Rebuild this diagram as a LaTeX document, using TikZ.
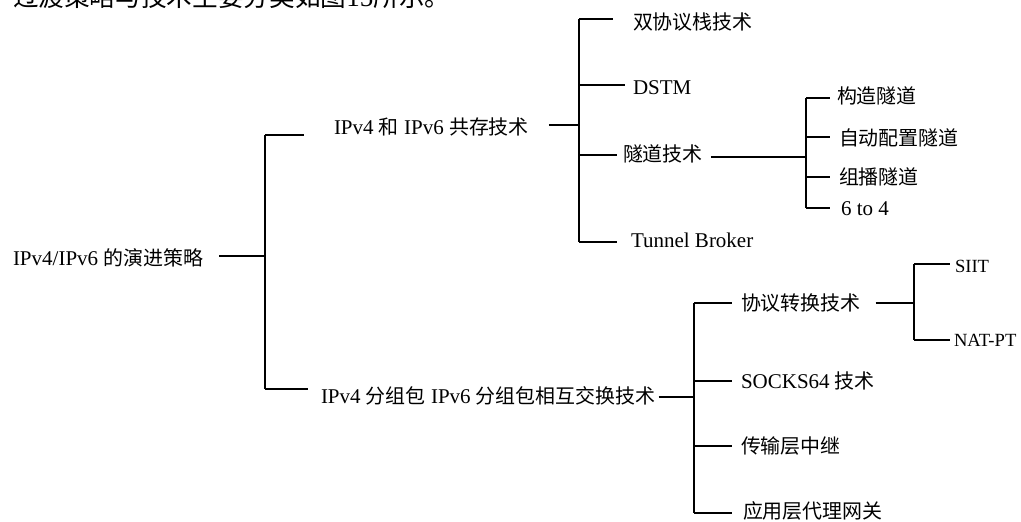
\documentclass[tikz,border=0pt]{standalone}
\usepackage{fontspec}
\setmainfont{Liberation Serif}
\newfontfamily\cjk[Scale=0.95]{Noto Sans CJK SC}
\begin{document}
\begin{tikzpicture}[x=0.5pt,y=-0.5pt,line width=1pt,
  lab/.style={anchor=west,inner sep=0pt,font=\fontsize{10.5}{12}\selectfont},
  narrow/.style={lab,font=\fontsize{9.3}{11}\selectfont}]
\useasboundingbox (0,0) rectangle (1021,522);
\clip (0,0) rectangle (1021,522);
% cut-off caption line at the top
\node[anchor=base west,inner sep=0pt,font=\fontsize{13.5}{15}\selectfont] (cap) at (12,7) {{\cjk 过渡策略与技术主要分类如图}15{\cjk 所示。}};
% root
\node[lab] (root) at (12,258) {IPv4/IPv6 {\cjk 的演进策略}};
\coordinate (rj) at (265,256);
\coordinate (t1) at (265,135);
\coordinate (t2) at (265,389);
\draw ([xshift=7.5pt]root.east |- rj) -- (rj);
\draw (t1) -- (t2);
% level 1
\node[lab] (co) at (333,127) {IPv4 {\cjk 和} IPv6 {\cjk 共存技术}};
\node[lab] (ex) at (320,396) {IPv4 {\cjk 分组包} IPv6 {\cjk 分组包相互交换技术}};
\draw (t1) -- ([xshift=-14.5pt]co.west |- t1);
\draw (t2) -- ([xshift=-6pt]ex.west |- t2);
% co-existence children
\coordinate (vm) at (579,125);
\coordinate (a1) at (579,19);
\coordinate (a2) at (579,85);
\coordinate (a3) at (579,155);
\coordinate (a4) at (579,242);
\draw ([xshift=9.5pt]co.east |- vm) -- (vm);
\draw (a1) -- (a4);
\node[lab] (ds) at (632,22) {\cjk 双协议栈技术};
\node[lab] (dstm) at (632,88) {DSTM};
\node[lab] (tun) at (622,154) {\cjk 隧道技术};
\node[lab] (tb) at (630,240) {Tunnel Broker};
\draw (a1) -- ([xshift=-9.5pt]ds.west |- a1);
\draw (a2) -- ([xshift=-3.5pt]dstm.west |- a2);
\draw (a3) -- ([xshift=-2.5pt]tun.west |- a3);
\draw (a4) -- ([xshift=-6.5pt]tb.west |- a4);
% tunnel children
\coordinate (tm) at (806,157);
\coordinate (b1) at (806,98);
\coordinate (b2) at (806,137);
\coordinate (b3) at (806,177);
\coordinate (b4) at (806,208);
\draw ([xshift=3.5pt]tun.east |- tm) -- (tm);
\draw (b1) -- (b4);
\node[lab] (gz) at (836,96) {\cjk 构造隧道};
\node[lab] (zd) at (838,138) {\cjk 自动配置隧道};
\node[lab] (zb) at (838,177) {\cjk 组播隧道};
\node[lab] (sf) at (840,209) {6 to 4};
\draw (b1) -- ([xshift=-3pt]gz.west |- b1);
\draw (b2) -- ([xshift=-4pt]zd.west |- b2);
\draw (b3) -- ([xshift=-4pt]zb.west |- b3);
\draw (b4) -- ([xshift=-5pt]sf.west |- b4);
% exchange children
\coordinate (em) at (694,397);
\coordinate (c1) at (694,303);
\coordinate (c2) at (694,381);
\coordinate (c3) at (694,446);
\coordinate (c4) at (694,513);
\draw ([xshift=1pt]ex.east |- em) -- (em);
\draw (c1) -- (c4);
\node[lab] (xy) at (740,303) {\cjk 协议转换技术};
\node[lab] (sk) at (740,381) {SOCKS64 {\cjk 技术}};
\node[lab] (cs) at (740,446) {\cjk 传输层中继};
\node[lab] (yy) at (742,511) {\cjk 应用层代理网关};
\draw (c1) -- ([xshift=-4pt]xy.west |- c1);
\draw (c2) -- ([xshift=-4pt]sk.west |- c2);
\draw (c3) -- ([xshift=-4pt]cs.west |- c3);
\draw (c4) -- ([xshift=-5pt]yy.west |- c4);
% protocol translation children
\coordinate (pm) at (914,303);
\coordinate (d1) at (914,264);
\coordinate (d2) at (914,340);
\draw ([xshift=7pt]xy.east |- pm) -- (pm);
\draw (d1) -- (d2);
\node[narrow] (siit) at (954,266) {SIIT};
\node[narrow] (nat) at (953,340) {NAT-PT};
\draw (d1) -- ([xshift=-2pt]siit.west |- d1);
\draw (d2) -- ([xshift=-1.5pt]nat.west |- d2);
\end{tikzpicture}
\end{document}
